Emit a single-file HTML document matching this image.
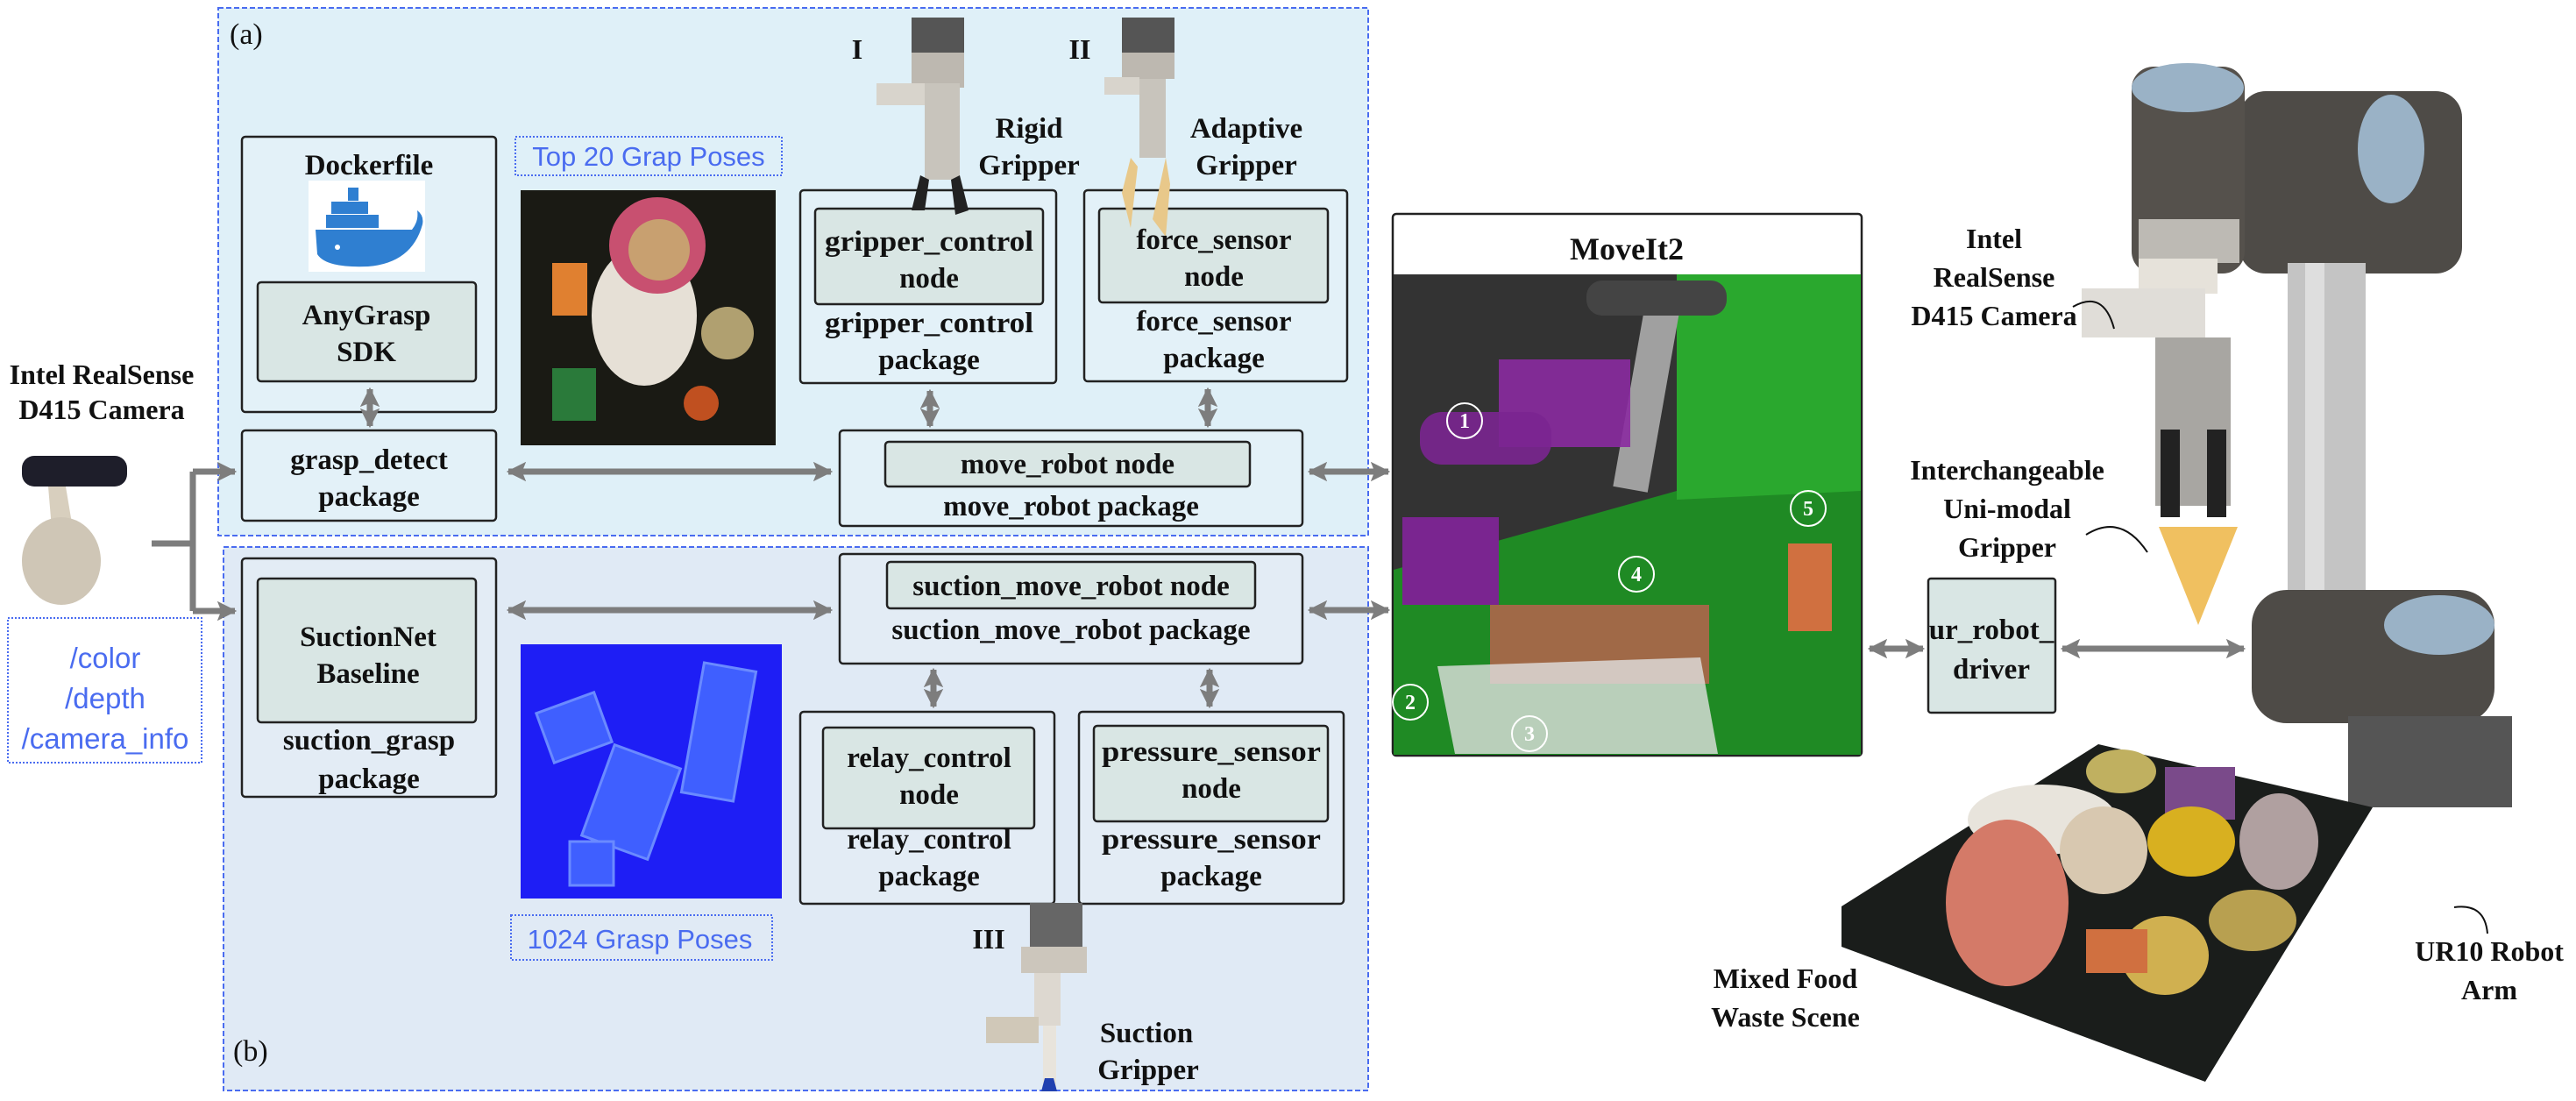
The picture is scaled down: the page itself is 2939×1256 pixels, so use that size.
<!DOCTYPE html>
<html><head><meta charset="utf-8"><style>
html,body{margin:0;padding:0;background:#fff;}
svg{display:block;}
text{font-family:"Liberation Serif",serif;font-weight:bold;fill:#111;}
.c{text-anchor:middle;}
.bl{fill:#4a6cf0;font-weight:normal;font-family:"Liberation Sans",sans-serif;}
</style></head><body>
<svg width="2939" height="1256" viewBox="0 0 2939 1256" xmlns="http://www.w3.org/2000/svg">
<defs>
<marker id="ah" viewBox="0 0 10 10" refX="9" refY="5" markerWidth="3.2" markerHeight="3.6" orient="auto-start-reverse" markerUnits="strokeWidth">
<path d="M0,0 L10,5 L0,10 L2,5 z" fill="#7d7d7d"/></marker>
</defs>
<rect x="249" y="9" width="1312" height="602" fill="#dff0f8" stroke="#4a6cf0" stroke-width="2" stroke-dasharray="6,3"/>
<rect x="255" y="624" width="1306" height="620" fill="#e0eaf5" stroke="#4a6cf0" stroke-width="2" stroke-dasharray="6,3"/>
<text x="262" y="50" style="font-weight:normal;font-size:34px">(a)</text>
<text x="266" y="1210" style="font-weight:normal;font-size:34px">(b)</text>

<g stroke="#222" stroke-width="2.5">
<rect x="276" y="156" width="290" height="314" rx="4" fill="#e3f1f8"/>
<rect x="294" y="322" width="249" height="113" rx="4" fill="#d9e6e4"/>
<rect x="276" y="491" width="290" height="103" rx="4" fill="#e3f1f8"/>
<rect x="913" y="217" width="292" height="220" rx="4" fill="#e3f1f8"/>
<rect x="930" y="238" width="260" height="109" rx="4" fill="#d9e6e4"/>
<rect x="1237" y="217" width="300" height="218" rx="4" fill="#e3f1f8"/>
<rect x="1254" y="238" width="261" height="107" rx="4" fill="#d9e6e4"/>
<rect x="958" y="491" width="528" height="109" rx="4" fill="#e3f1f8"/>
<rect x="1010" y="504" width="416" height="51" rx="4" fill="#d9e6e4"/>
<rect x="276" y="637" width="290" height="272" rx="4" fill="#e3ecf5"/>
<rect x="294" y="660" width="249" height="164" rx="4" fill="#d9e6e4"/>
<rect x="958" y="632" width="528" height="125" rx="4" fill="#e3ecf5"/>
<rect x="1012" y="641" width="420" height="53" rx="4" fill="#d9e6e4"/>
<rect x="913" y="812" width="290" height="219" rx="4" fill="#e3ecf5"/>
<rect x="939" y="830" width="241" height="115" rx="4" fill="#d9e6e4"/>
<rect x="1231" y="812" width="302" height="219" rx="4" fill="#e3ecf5"/>
<rect x="1248" y="828" width="267" height="109" rx="4" fill="#d9e6e4"/>
<rect x="2200" y="660" width="145" height="153" rx="3" fill="#d9e6e4"/>
</g>

<rect x="352" y="206" width="133" height="104" fill="#fff"/>
<path d="M360,262 L470,262 Q478,252 476,240 Q484,246 482,256 Q470,300 420,304 Q372,306 362,290 Z" fill="#2f7fd1"/>
<g fill="#2f7fd1"><rect x="372" y="245" width="60" height="15"/><rect x="378" y="230" width="42" height="14"/><rect x="397" y="214" width="12" height="15"/></g>
<circle cx="385" cy="282" r="3" fill="#fff"/>

<rect x="588" y="156" width="304" height="44" fill="none" stroke="#4a6cf0" stroke-width="2" stroke-dasharray="2,2"/>
<text x="740" y="189" class="c bl" style="font-size:31px">Top  20  Grap  Poses</text>
<rect x="583" y="1044" width="298" height="51" fill="none" stroke="#4a6cf0" stroke-width="2" stroke-dasharray="2,2"/>
<text x="730" y="1082" class="c bl" style="font-size:31px">1024 Grasp Poses</text>
<rect x="9" y="705" width="221" height="165" fill="#fff" stroke="#4a6cf0" stroke-width="2" stroke-dasharray="2,2"/>
<text x="120" y="762" class="c bl" style="font-size:33px">/color</text>
<text x="120" y="808" class="c bl" style="font-size:33px">/depth</text>
<text x="120" y="854" class="c bl" style="font-size:33px">/camera_info</text>

<rect x="594" y="217" width="291" height="291" fill="#1a1a14"/>
<ellipse cx="735" cy="360" rx="60" ry="80" fill="#e6e0d6"/>
<circle cx="750" cy="280" r="55" fill="#c85070"/>
<circle cx="752" cy="285" r="35" fill="#c8a070"/>
<rect x="630" y="300" width="40" height="60" fill="#e08030"/>
<circle cx="830" cy="380" r="30" fill="#b0a070"/>
<rect x="630" y="420" width="50" height="60" fill="#2a7a3a"/>
<circle cx="800" cy="460" r="20" fill="#c05020"/>
<rect x="594" y="735" width="298" height="290" fill="#1e1ef5"/>
<g fill="#3f5fff" stroke="#6a8aff" stroke-width="3">
<rect x="620" y="800" width="70" height="60" transform="rotate(-20 655 830)"/>
<rect x="790" y="760" width="60" height="150" transform="rotate(10 820 835)"/>
<rect x="680" y="860" width="80" height="110" transform="rotate(20 720 915)"/>
<rect x="650" y="960" width="50" height="50"/>
</g>

<g>
<rect x="1040" y="20" width="60" height="50" fill="#555"/>
<rect x="1040" y="60" width="60" height="40" fill="#bdb8b0"/>
<rect x="1000" y="95" width="60" height="25" fill="#d8d4cc"/>
<rect x="1055" y="95" width="40" height="110" fill="#c8c4bc"/>
<path d="M1050,200 l-10,40 l15,0 l5,-35 z M1095,200 l10,40 l-15,5 l-5,-40z" fill="#222"/>
<rect x="1280" y="20" width="60" height="50" fill="#555"/>
<rect x="1280" y="60" width="60" height="30" fill="#bdb8b0"/>
<rect x="1260" y="88" width="40" height="20" fill="#d8d4cc"/>
<rect x="1300" y="90" width="30" height="90" fill="#c8c4bc"/>
<path d="M1290,180 l-10,40 l10,40 l8,-70z M1330,180 l5,30 l-5,60 l-15,-20z" fill="#e8c88a"/>
<rect x="1175" y="1030" width="60" height="50" fill="#666"/>
<rect x="1165" y="1080" width="75" height="30" fill="#ccc6bc"/>
<rect x="1180" y="1110" width="30" height="60" fill="#ddd8d0"/>
<rect x="1125" y="1160" width="60" height="30" fill="#d0c8b8"/>
<rect x="1190" y="1170" width="15" height="70" fill="#e8e4dc"/>
<path d="M1192,1230 l10,0 l4,15 l-18,0z" fill="#2040b0"/>
</g>
<text x="978" y="67" class="c" style="font-size:32px">I</text>
<text x="1232" y="67" class="c" style="font-size:32px">II</text>
<text x="1128" y="1082" class="c" style="font-size:32px">III</text>
<g style="font-size:33px">
<text x="1174" y="157" class="c">Rigid</text>
<text x="1174" y="199" class="c">Gripper</text>
<text x="1422" y="157" class="c">Adaptive</text>
<text x="1422" y="199" class="c">Gripper</text>
<text x="1308" y="1189" class="c">Suction</text>
<text x="1310" y="1231" class="c">Gripper</text>
</g>

<g style="font-size:33px">
<text x="421" y="199" class="c">Dockerfile</text>
<text x="418" y="370" class="c">AnyGrasp</text>
<text x="418" y="412" class="c">SDK</text>
<text x="421" y="535" class="c">grasp_detect</text>
<text x="421" y="577" class="c">package</text>
<text x="1060" y="286" class="c" textLength="238" lengthAdjust="spacingAndGlyphs">gripper_control</text>
<text x="1060" y="328" class="c">node</text>
<text x="1060" y="379" class="c" textLength="238" lengthAdjust="spacingAndGlyphs">gripper_control</text>
<text x="1060" y="421" class="c">package</text>
<text x="1385" y="284" class="c">force_sensor</text>
<text x="1385" y="326" class="c">node</text>
<text x="1385" y="377" class="c">force_sensor</text>
<text x="1385" y="419" class="c">package</text>
<text x="1218" y="540" class="c">move_robot  node</text>
<text x="1222" y="588" class="c">move_robot package</text>
<text x="420" y="737" class="c">SuctionNet</text>
<text x="420" y="779" class="c">Baseline</text>
<text x="421" y="855" class="c">suction_grasp</text>
<text x="421" y="899" class="c">package</text>
<text x="1222" y="679" class="c">suction_move_robot  node</text>
<text x="1222" y="729" class="c">suction_move_robot package</text>
<text x="1060" y="875" class="c">relay_control</text>
<text x="1060" y="917" class="c">node</text>
<text x="1060" y="968" class="c">relay_control</text>
<text x="1060" y="1010" class="c">package</text>
<text x="1382" y="868" class="c" textLength="250" lengthAdjust="spacingAndGlyphs">pressure_sensor</text>
<text x="1382" y="910" class="c">node</text>
<text x="1382" y="968" class="c" textLength="250" lengthAdjust="spacingAndGlyphs">pressure_sensor</text>
<text x="1382" y="1010" class="c">package</text>
<text x="2272" y="729" class="c">ur_robot_</text>
<text x="2272" y="774" class="c">driver</text>
</g>

<text x="116" y="438" class="c" style="font-size:32px">Intel RealSense</text>
<text x="116" y="478" class="c" style="font-size:32px">D415 Camera</text>
<rect x="25" y="520" width="120" height="35" rx="14" fill="#1e1e2a"/>
<path d="M55,555 l20,0 l10,60 l-25,0z" fill="#d8cfbe"/>
<ellipse cx="70" cy="640" rx="45" ry="50" fill="#cfc6b6"/>

<rect x="1589" y="244" width="535" height="618" rx="4" fill="#fff" stroke="#222" stroke-width="2.5"/>
<text x="1856" y="296" class="c" style="font-size:36px">MoveIt2</text>
<rect x="1590" y="313" width="533" height="548" fill="#1f8a24"/>
<path d="M1590,313 L1913,313 L1913,560 L1590,650 Z" fill="#333"/>
<path d="M1913,313 L2123,313 L2123,560 L1913,570Z" fill="#2aa82e"/>
<rect x="1860" y="330" width="40" height="230" fill="#a0a0a0" transform="rotate(10 1880 445)"/>
<rect x="1810" y="320" width="160" height="40" rx="18" fill="#444"/>
<rect x="1710" y="410" width="150" height="100" fill="#8a2aa0" opacity="0.9"/>
<rect x="1620" y="470" width="150" height="60" rx="25" fill="#7a2590" opacity="0.9"/>
<rect x="1600" y="590" width="110" height="100" fill="#7a2590"/>
<rect x="1700" y="690" width="250" height="90" fill="#c06050" opacity="0.8"/>
<path d="M1640,760 L1940,750 L1960,860 L1660,860Z" fill="#e0e0e0" opacity="0.8"/>
<rect x="2040" y="620" width="50" height="100" fill="#d07040"/>
<g fill="none" stroke="#fff" stroke-width="2">
<circle cx="1671" cy="480" r="20"/><circle cx="1609" cy="801" r="20"/><circle cx="1745" cy="837" r="20"/><circle cx="1867" cy="655" r="20"/><circle cx="2063" cy="580" r="20"/>
</g>
<g font-size="24" style="font-family:'Liberation Sans',sans-serif;font-weight:normal">
<text x="1671" y="488" class="c" style="fill:#fff">1</text><text x="1609" y="809" class="c" style="fill:#fff">2</text><text x="1745" y="845" class="c" style="fill:#fff">3</text><text x="1867" y="663" class="c" style="fill:#fff">4</text><text x="2063" y="588" class="c" style="fill:#fff">5</text>
</g>

<!-- right robot -->
<rect x="2555" y="104" width="254" height="208" rx="30" fill="#4e4b47"/>
<ellipse cx="2728" cy="170" rx="38" ry="62" fill="#9ab2c6"/>
<rect x="2610" y="300" width="89" height="389" fill="#c4c4c4"/>
<rect x="2630" y="300" width="22" height="389" fill="#dedede"/>
<rect x="2432" y="76" width="129" height="236" rx="25" fill="#55514c"/>
<ellipse cx="2496" cy="100" rx="64" ry="28" fill="#9ab2c6"/>
<rect x="2440" y="250" width="115" height="50" fill="#bdbab4"/>
<rect x="2440" y="295" width="90" height="40" fill="#e6e2da"/>
<rect x="2375" y="329" width="141" height="56" fill="#e0ddd8"/>
<rect x="2459" y="385" width="86" height="192" fill="#a8a6a2"/>
<path d="M2465,490 l22,0 l0,100 l-22,0z M2518,490 l22,0 l0,100 l-22,0z" fill="#222"/>
<path d="M2463,601 l90,0 l-45,112 z" fill="#f0c060"/>
<rect x="2569" y="673" width="277" height="152" rx="40" fill="#4e4b47"/>
<ellipse cx="2783" cy="713" rx="63" ry="34" fill="#9ab2c6"/>
<rect x="2679" y="817" width="187" height="104" fill="#555"/>
<!-- tray -->
<path d="M2101,1034 L2394,849 L2707,921 L2516,1234 L2101,1080 Z" fill="#1a1d1b"/>
<ellipse cx="2330" cy="935" rx="85" ry="40" fill="#e8e4dc"/>
<ellipse cx="2290" cy="1030" rx="70" ry="95" fill="#d47a68"/>
<rect x="2470" y="875" width="80" height="60" fill="#7a4a8a"/>
<ellipse cx="2420" cy="880" rx="40" ry="25" fill="#c0b060"/>
<ellipse cx="2400" cy="970" rx="50" ry="50" fill="#d8c8b0"/>
<ellipse cx="2500" cy="960" rx="50" ry="40" fill="#d8b020"/>
<ellipse cx="2600" cy="960" rx="45" ry="55" fill="#b0a0a0"/>
<ellipse cx="2570" cy="1050" rx="50" ry="35" fill="#b8a050"/>
<ellipse cx="2470" cy="1090" rx="50" ry="45" fill="#d0b050"/>
<rect x="2380" y="1060" width="70" height="50" fill="#d07040"/>
<g style="font-size:32px">
<text x="2275" y="283" class="c">Intel</text>
<text x="2275" y="327" class="c">RealSense</text>
<text x="2275" y="371" class="c">D415 Camera</text>
<text x="2290" y="547" class="c">Interchangeable</text>
<text x="2290" y="591" class="c">Uni-modal</text>
<text x="2290" y="635" class="c">Gripper</text>
<text x="2037" y="1127" class="c">Mixed Food</text>
<text x="2037" y="1171" class="c">Waste Scene</text>
<text x="2840" y="1096" class="c">UR10 Robot</text>
<text x="2840" y="1140" class="c">Arm</text>
</g>
<g fill="none" stroke="#111" stroke-width="2">
<path d="M2365,350 Q2400,330 2412,375"/>
<path d="M2380,610 Q2420,585 2450,630"/>
<path d="M2838,1065 Q2835,1030 2800,1035"/>
</g>

<g stroke="#7d7d7d" stroke-width="7" fill="none">
<line x1="580" y1="538" x2="948" y2="538" marker-start="url(#ah)" marker-end="url(#ah)"/>
<line x1="1494" y1="538" x2="1584" y2="538" marker-start="url(#ah)" marker-end="url(#ah)"/>
<line x1="580" y1="696" x2="948" y2="696" marker-start="url(#ah)" marker-end="url(#ah)"/>
<line x1="1494" y1="696" x2="1584" y2="696" marker-start="url(#ah)" marker-end="url(#ah)"/>
<line x1="422" y1="444" x2="422" y2="486" marker-start="url(#ah)" marker-end="url(#ah)"/>
<line x1="1061" y1="446" x2="1061" y2="486" marker-start="url(#ah)" marker-end="url(#ah)"/>
<line x1="1378" y1="444" x2="1378" y2="486" marker-start="url(#ah)" marker-end="url(#ah)"/>
<line x1="1065" y1="764" x2="1065" y2="806" marker-start="url(#ah)" marker-end="url(#ah)"/>
<line x1="1380" y1="764" x2="1380" y2="806" marker-start="url(#ah)" marker-end="url(#ah)"/>
<line x1="2133" y1="740" x2="2194" y2="740" marker-start="url(#ah)" marker-end="url(#ah)"/>
<line x1="2353" y1="740" x2="2560" y2="740" marker-start="url(#ah)" marker-end="url(#ah)"/>
<polyline points="173,620 220,620"/>
<polyline points="220,538 220,697"/>
<line x1="220" y1="538" x2="268" y2="538" marker-end="url(#ah)"/>
<line x1="220" y1="697" x2="268" y2="697" marker-end="url(#ah)"/>
</g>
</svg>
</body></html>
